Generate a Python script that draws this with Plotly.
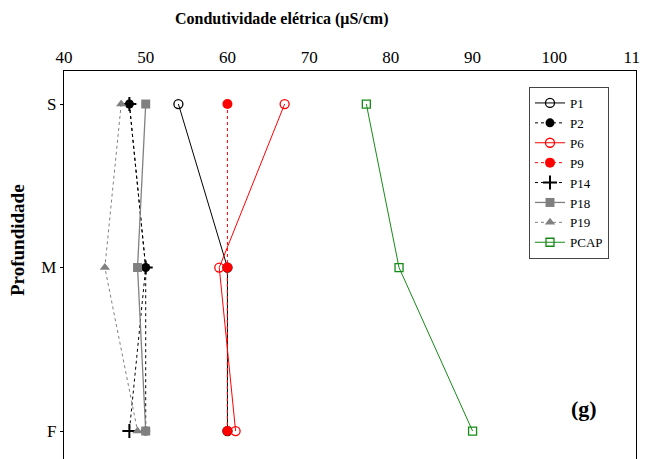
import plotly.graph_objects as go

depths = ["S", "M", "F"]
P1 = [54, 60, 60]
P2 = [48, 50, 50]
P6 = [67, 59, 61]
P9 = [60, 60, 60]
P14 = [48, 50, 48]
P18 = [50, 49, 50]
P19 = [47, 45, 49]
PCAP = [77, 81, 90]
x_ticks = [40, 50, 60, 70, 80, 90, 100, 110]

FONT = "Liberation Serif"
RED = "#ff0000"
GRAY = "#808080"
GREEN = "#168a16"

series = [
    ("P1", P1, dict(color="black", width=1, dash="solid"),
     dict(symbol="circle-open", color="black", size=9, line=dict(width=1.3, color="black"))),
    ("P2", P2, dict(color="black", width=1, dash="dot"),
     dict(symbol="circle", color="black", size=9)),
    ("P6", P6, dict(color=RED, width=1, dash="solid"),
     dict(symbol="circle-open", color=RED, size=9, line=dict(width=1.3, color=RED))),
    ("P9", P9, dict(color=RED, width=1, dash="dot"),
     dict(symbol="circle", color=RED, size=10)),
    ("P14", P14, dict(color="black", width=1, dash="dot"),
     dict(symbol="cross-thin", color="black", size=10, line=dict(width=2, color="black"))),
    ("P18", P18, dict(color=GRAY, width=1.3, dash="solid"),
     dict(symbol="square", color=GRAY, size=9)),
    ("P19", P19, dict(color=GRAY, width=1, dash="dot"),
     dict(symbol="triangle-up", color=GRAY, size=9)),
    ("PCAP", PCAP, dict(color=GREEN, width=1, dash="solid"),
     dict(symbol="square-open", color=GREEN, size=8, line=dict(width=1.3, color=GREEN))),
]

fig = go.Figure()
for name, vals, ln, mk in series:
    fig.add_trace(go.Scatter(x=vals, y=depths, mode="lines+markers", name=name,
                             line=ln, marker=mk, cliponaxis=False))

# page body has an 8px default margin; the figure is sized/offset to compensate
fig.update_layout(
    width=640, height=451,
    margin=dict(l=56, r=12, t=63, b=0, autoexpand=False),
    paper_bgcolor="white", plot_bgcolor="white",
    font=dict(family=FONT, size=16, color="black"),
    showlegend=True,
    legend=dict(x=(529 - 64) / 572, y=1 - (87 - 71) / 388, xanchor="left", yanchor="top",
                bordercolor="#444444", borderwidth=1, bgcolor="white",
                font=dict(family=FONT, size=13), itemwidth=30,
                tracegroupgap=0, traceorder="normal"),
)
fig.update_xaxes(side="top", range=[40, 110], tickvals=x_ticks, showgrid=False,
                 zeroline=False, showline=True, linecolor="black", linewidth=1.3,
                 ticks="", tickfont=dict(family=FONT, size=17), automargin=False,
                 ticklabeloverflow="allow")
fig.update_yaxes(type="category", categoryorder="array", categoryarray=depths,
                 range=[2.171, -0.202], showgrid=False, zeroline=False,
                 showline=True, linecolor="black", linewidth=1.3, mirror=True,
                 ticks="outside", ticklen=3, tickcolor="black",
                 tickfont=dict(family=FONT, size=17), automargin=False)

fig.add_annotation(text="<b>Condutividade elétrica (μS/cm)</b>", xref="paper", yref="paper",
                   x=(282 - 64) / 572, y=1 + (71 - 19) / 388, xanchor="center", yanchor="middle",
                   showarrow=False, font=dict(family=FONT, size=16))
fig.add_annotation(text="<b>Profundidade</b>", xref="paper", yref="paper",
                   x=(17 - 64) / 572, y=1 - (240 - 71) / 388, xanchor="center", yanchor="middle",
                   textangle=-90, showarrow=False, font=dict(family=FONT, size=19))
fig.add_annotation(text="<b>(g)</b>", xref="paper", yref="paper",
                   x=(584 - 64) / 572, y=1 - (408 - 71) / 388, xanchor="center", yanchor="middle",
                   showarrow=False, font=dict(family=FONT, size=22))

fig.write_html("out.html")
